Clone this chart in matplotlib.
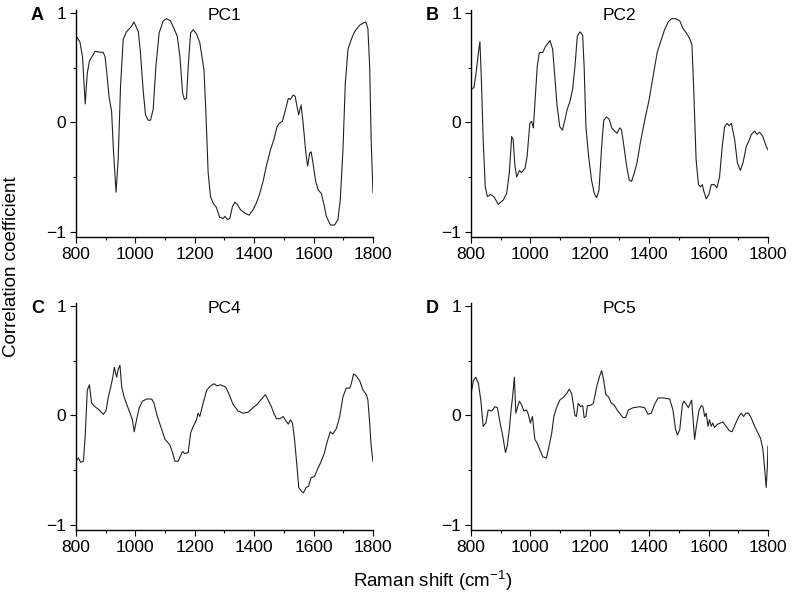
import numpy as np
import matplotlib.pyplot as plt
from matplotlib.ticker import MultipleLocator

plt.rcParams['font.family'] = ['Liberation Sans', 'DejaVu Sans']

# Correlation loadings (Raman shift in cm-1, coefficient)
pc1_x = [800, 813, 822, 831, 838, 845, 864, 892, 898, 905, 912, 920, 926, 935, 942, 950, 959, 970,
         987, 995, 1002, 1010, 1017, 1026, 1034, 1043, 1051, 1060, 1069, 1080, 1094, 1105, 1118,
         1130, 1141, 1150, 1159, 1165, 1172, 1178, 1186, 1195, 1206, 1217, 1226, 1231, 1237, 1245,
         1253, 1262, 1273, 1284, 1296, 1301, 1310, 1318, 1327, 1335, 1343, 1354, 1368, 1383, 1396,
         1407, 1418, 1430, 1441, 1455, 1466, 1477, 1484, 1495, 1504, 1515, 1522, 1531, 1538, 1544,
         1550, 1558, 1565, 1574, 1580, 1587, 1592, 1598, 1607, 1616, 1626, 1634, 1643, 1657, 1671,
         1682, 1690, 1699, 1707, 1716, 1727, 1738, 1755, 1767, 1776, 1783, 1789, 1794, 1800]
pc1_y = [0.79, 0.74, 0.60, 0.17, 0.45, 0.56, 0.65, 0.64, 0.60, 0.42, 0.22, 0.10, -0.25, -0.64, -0.34,
         0.33, 0.76, 0.83, 0.88, 0.92, 0.88, 0.83, 0.64, 0.30, 0.07, 0.02, 0.02, 0.12, 0.51, 0.82,
         0.93, 0.95, 0.93, 0.86, 0.79, 0.60, 0.27, 0.21, 0.22, 0.51, 0.82, 0.85, 0.81, 0.73, 0.57,
         0.48, 0.12, -0.46, -0.68, -0.74, -0.78, -0.87, -0.88, -0.86, -0.89, -0.88, -0.77, -0.73,
         -0.75, -0.80, -0.83, -0.85, -0.80, -0.74, -0.66, -0.54, -0.40, -0.25, -0.16, -0.04, -0.01,
         0.01, 0.10, 0.22, 0.21, 0.25, 0.24, 0.15, 0.07, 0.16, -0.01, -0.28, -0.40, -0.28, -0.27,
         -0.37, -0.54, -0.62, -0.65, -0.74, -0.86, -0.94, -0.94, -0.89, -0.71, -0.25, 0.36, 0.67,
         0.76, 0.83, 0.89, 0.91, 0.92, 0.86, 0.51, -0.16, -0.64]

pc2_x = [800, 810, 817, 825, 830, 835, 841, 848, 855, 866, 877, 892, 909, 920, 929, 937, 942, 948,
         954, 963, 970, 982, 989, 998, 1004, 1010, 1016, 1023, 1030, 1041, 1052, 1066, 1075, 1083,
         1090, 1099, 1108, 1116, 1124, 1133, 1142, 1150, 1158, 1167, 1176, 1181, 1187, 1196, 1206,
         1215, 1223, 1231, 1240, 1247, 1256, 1265, 1274, 1284, 1292, 1301, 1307, 1315, 1324, 1333,
         1341, 1350, 1359, 1370, 1385, 1400, 1413, 1427, 1441, 1452, 1464, 1475, 1489, 1503, 1514,
         1525, 1536, 1544, 1550, 1558, 1566, 1573, 1579, 1584, 1592, 1601, 1609, 1620, 1628, 1637,
         1646, 1654, 1662, 1669, 1677, 1688, 1697, 1707, 1716, 1727, 1736, 1744, 1755, 1763, 1772,
         1783, 1794, 1800]
pc2_y = [0.30, 0.32, 0.45, 0.64, 0.74, 0.39, -0.16, -0.59, -0.68, -0.66, -0.68, -0.75, -0.71, -0.65,
         -0.46, -0.13, -0.16, -0.40, -0.50, -0.44, -0.46, -0.42, -0.31, -0.01, 0.01, -0.05, 0.21,
         0.51, 0.64, 0.64, 0.70, 0.75, 0.67, 0.39, 0.15, -0.04, -0.07, 0.02, 0.12, 0.19, 0.30, 0.51,
         0.79, 0.83, 0.80, 0.51, -0.04, -0.31, -0.53, -0.65, -0.69, -0.62, -0.22, 0.02, 0.05, 0.03,
         -0.05, -0.08, -0.10, -0.05, -0.07, -0.22, -0.40, -0.53, -0.54, -0.46, -0.37, -0.19, 0.02,
         0.21, 0.42, 0.64, 0.76, 0.85, 0.92, 0.95, 0.95, 0.93, 0.86, 0.82, 0.77, 0.71, 0.30, -0.34,
         -0.57, -0.59, -0.57, -0.63, -0.70, -0.66, -0.57, -0.57, -0.60, -0.50, -0.22, -0.04, -0.01,
         -0.03, -0.01, -0.16, -0.37, -0.44, -0.37, -0.22, -0.17, -0.11, -0.08, -0.11, -0.09, -0.13,
         -0.22, -0.25]

pc4_x = [800, 808, 816, 825, 831, 838, 845, 853, 864, 878, 892, 901, 909, 917, 924, 929, 937, 942,
         948, 954, 962, 971, 982, 990, 996, 1004, 1013, 1024, 1038, 1055, 1063, 1074, 1085, 1100,
         1116, 1125, 1133, 1144, 1152, 1159, 1166, 1178, 1186, 1195, 1206, 1211, 1217, 1228, 1240,
         1253, 1265, 1275, 1286, 1304, 1316, 1329, 1346, 1363, 1380, 1396, 1413, 1428, 1438, 1447,
         1458, 1466, 1475, 1487, 1498, 1507, 1515, 1522, 1529, 1536, 1544, 1550, 1558, 1566, 1575,
         1583, 1592, 1603, 1614, 1626, 1637, 1645, 1656, 1665, 1677, 1688, 1699, 1710, 1722, 1727,
         1735, 1744, 1755, 1767, 1778, 1783, 1789, 1794, 1800]
pc4_y = [-0.42, -0.39, -0.43, -0.42, -0.19, 0.23, 0.28, 0.11, 0.08, 0.05, 0.01, 0.04, 0.17, 0.26,
         0.35, 0.44, 0.35, 0.42, 0.46, 0.26, 0.17, 0.10, 0.02, -0.04, -0.15, -0.04, 0.07, 0.13, 0.15,
         0.15, 0.11, -0.01, -0.10, -0.22, -0.27, -0.34, -0.42, -0.42, -0.37, -0.33, -0.35, -0.34,
         -0.16, -0.10, -0.04, 0.02, -0.01, 0.11, 0.23, 0.27, 0.29, 0.27, 0.28, 0.26, 0.19, 0.10, 0.04,
         0.02, 0.03, 0.07, 0.11, 0.16, 0.19, 0.14, 0.08, 0.02, -0.03, -0.03, -0.01, -0.05, -0.08,
         -0.04, -0.07, -0.22, -0.46, -0.66, -0.69, -0.71, -0.66, -0.65, -0.57, -0.56, -0.49, -0.42,
         -0.34, -0.25, -0.15, -0.17, -0.12, -0.01, 0.17, 0.25, 0.25, 0.29, 0.38, 0.36, 0.32, 0.23,
         0.19, 0.14, -0.07, -0.28, -0.42]

pc5_x = [800, 808, 816, 825, 833, 841, 850, 858, 870, 881, 889, 898, 907, 916, 922, 929, 935, 940,
         946, 951, 956, 963, 970, 978, 987, 993, 1000, 1007, 1015, 1022, 1031, 1042, 1054, 1063,
         1072, 1079, 1088, 1099, 1113, 1122, 1131, 1139, 1144, 1150, 1155, 1161, 1169, 1176, 1181,
         1187, 1192, 1201, 1212, 1223, 1232, 1240, 1247, 1254, 1263, 1273, 1281, 1292, 1303, 1312,
         1321, 1330, 1346, 1368, 1385, 1396, 1407, 1418, 1430, 1446, 1469, 1480, 1489, 1495, 1503,
         1512, 1517, 1525, 1532, 1538, 1543, 1548, 1553, 1559, 1568, 1576, 1581, 1587, 1592, 1598,
         1603, 1609, 1614, 1620, 1631, 1648, 1659, 1670, 1679, 1687, 1695, 1702, 1710, 1718, 1726,
         1735, 1743, 1755, 1766, 1775, 1783, 1789, 1794, 1798, 1800]
pc5_y = [0.19, 0.32, 0.35, 0.29, 0.14, -0.10, -0.07, 0.05, 0.04, 0.08, 0.07, -0.07, -0.19, -0.34,
         -0.28, -0.13, 0.05, 0.17, 0.35, 0.02, 0.07, 0.13, 0.10, 0.04, 0.05, 0.01, -0.07, -0.01,
         -0.22, -0.25, -0.31, -0.38, -0.39, -0.28, -0.16, -0.01, 0.07, 0.14, 0.17, 0.20, 0.24, 0.20,
         0.11, 0.00, -0.01, 0.11, 0.08, 0.09, -0.02, -0.01, 0.09, 0.09, 0.11, 0.26, 0.35, 0.41, 0.32,
         0.19, 0.17, 0.11, 0.10, 0.05, 0.01, -0.02, -0.02, 0.05, 0.07, 0.08, 0.07, 0.01, 0.02, 0.10,
         0.16, 0.16, 0.15, 0.05, -0.13, -0.18, -0.13, 0.10, 0.13, 0.10, 0.07, 0.11, 0.14, -0.04,
         -0.22, -0.10, 0.05, 0.09, 0.08, -0.01, 0.02, -0.10, -0.04, -0.10, -0.07, -0.11, -0.08, -0.06,
         -0.10, -0.14, -0.15, -0.10, -0.05, -0.01, 0.02, -0.01, 0.02, 0.02, -0.02, -0.10, -0.16,
         -0.21, -0.31, -0.49, -0.66, -0.47, -0.28]

panels = [("A", "PC1", pc1_x, pc1_y), ("B", "PC2", pc2_x, pc2_y),
          ("C", "PC4", pc4_x, pc4_y), ("D", "PC5", pc5_x, pc5_y)]

fig = plt.figure(figsize=(7.94, 5.96), dpi=100)
lefts = [0.0957, 0.5932]
bottoms = [0.6023, 0.1107]
w, h = 0.374, 0.381

for i, (letter, title, xs, ys) in enumerate(panels):
    ax = fig.add_axes([lefts[i % 2], bottoms[i // 2], w, h])
    ax.plot(xs, ys, color="#222222", linewidth=0.8)
    ax.set_xlim(800, 1800)
    ax.set_ylim(-1.05, 1.03)
    ax.xaxis.set_major_locator(MultipleLocator(200))
    ax.xaxis.set_minor_locator(MultipleLocator(100))
    ax.set_yticks([-1, 0, 1])
    ax.set_yticklabels(["\u22121", "0", "1"])
    ax.yaxis.set_minor_locator(MultipleLocator(0.5))
    for side in ("top", "right"):
        ax.spines[side].set_visible(False)
    for side in ("left", "bottom"):
        ax.spines[side].set_linewidth(1.0)
    ax.tick_params(which="major", length=4, width=0.8, labelsize=12.5, pad=3)
    ax.tick_params(which="minor", length=2.5, width=0.8)
    ax.text(0.5, 0.975, title, transform=ax.transAxes, ha="center", va="center", fontsize=12.5)
    ax.text(-0.13, 0.975, letter, transform=ax.transAxes, ha="center", va="center",
            fontsize=13, fontweight="bold")

fig.text(0.015, 0.552, "Correlation coefficient", rotation=90, ha="center", va="center", fontsize=13.5)
fig.text(0.545, 0.026, "Raman shift (cm$^{\\mathregular{-1}}$)", ha="center", va="center", fontsize=13.5)

fig.savefig("out.png", dpi=100)
